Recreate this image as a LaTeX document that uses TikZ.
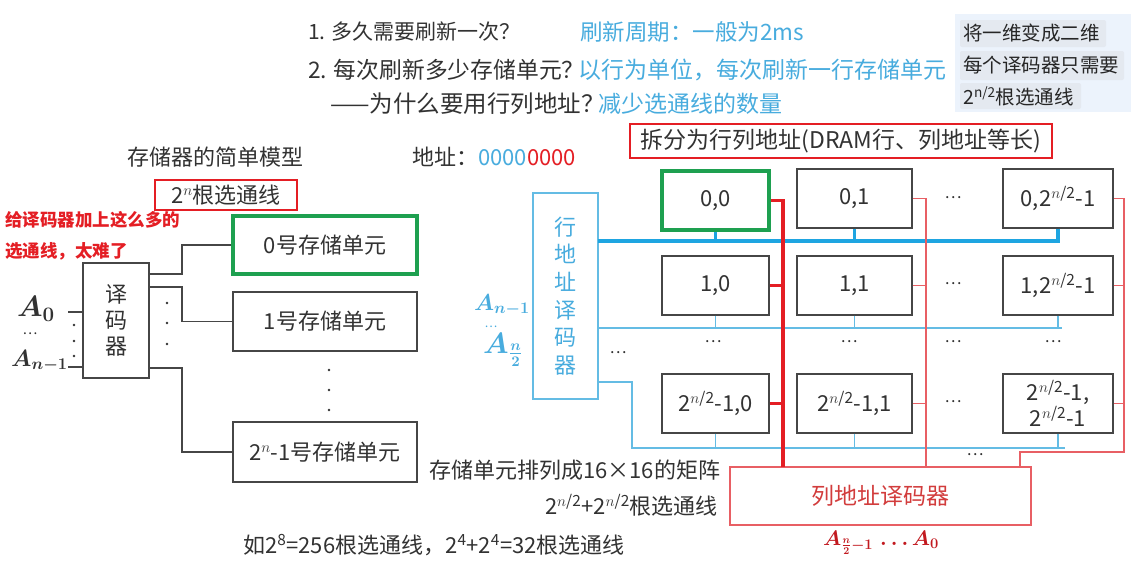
\RequirePackage{fix-cm}
\documentclass[tikz,border=0pt]{standalone}
\usepackage{amsmath,bm,graphicx}
\usepackage{fontspec}
\setmainfont{Noto Sans CJK SC}
\usetikzlibrary{calc}
\definecolor{txt}{RGB}{50,50,50}
\definecolor{lblue}{RGB}{72,172,222}
\definecolor{lineblue}{RGB}{30,165,225}
\definecolor{thinblue}{RGB}{100,188,228}
\definecolor{mred}{RGB}{228,30,36}
\definecolor{pred}{RGB}{232,95,100}
\definecolor{dred}{RGB}{210,60,60}
\definecolor{mgreen}{RGB}{30,160,80}
\definecolor{boxc}{RGB}{70,70,70}
\definecolor{panelbg}{RGB}{236,243,252}
\definecolor{hlbg}{RGB}{228,233,240}
\newcommand{\hsup}{2\textsuperscript{$n$/2}}
\begin{document}
\begin{tikzpicture}[x=1pt,y=-1pt,
  base/.style={inner sep=0pt, text=txt, font=\fontsize{22}{26}\selectfont},
  qtxt/.style={base, font=\fontsize{21}{25}\selectfont},
  bluetxt/.style={base, text=lblue, font=\fontsize{23}{27}\selectfont},
  paneltxt/.style={base, text=black!85, font=\fontsize{19.5}{23}\selectfont},
  annot/.style={base, text=mred, font=\fontsize{17.5}{21}\selectfont\bfseries},
  membox/.style={draw=boxc, line width=1.2pt, inner sep=0pt, text=txt,
    font=\fontsize{22}{26}\selectfont, minimum width=184, align=center},
  memcell/.style={draw=boxc, line width=1.2pt, inner sep=0pt, text=txt,
    font=\fontsize{22}{26}\selectfont, align=center},
  greenbox/.style={draw=mgreen, line width=3.5pt},
  wire/.style={draw=boxc, line width=1.1pt},
  bluethick/.style={draw=lineblue, line width=3.5pt},
  bluethin/.style={draw=thinblue, line width=1.3pt},
  redthick/.style={draw=mred, line width=3.5pt},
  redthin/.style={draw=pred, line width=1.3pt},
  dotsn/.style={base, font=\fontsize{16}{18}\selectfont},
  mathlbl/.style={base, font=\fontsize{21}{25}\selectfont},
  vdot/.style={fill=txt, circle, inner sep=0pt, minimum size=2.6pt}
]
\useasboundingbox (0,0) rectangle (1131,566);
\fill[white] (0,0) rectangle (1131,566);

% ---------- top questions ----------
\node[qtxt, anchor=west] (q1) at (308,32) {1. 多久需要刷新一次？};
\node[bluetxt, font=\fontsize{22.5}{27}\selectfont, anchor=west] (a1) at (580,32) {刷新周期：一般为2ms};
\node[qtxt, font=\fontsize{22.8}{27}\selectfont, anchor=west] (q2) at (308,70) {2. 每次刷新多少存储单元？};
\node[bluetxt, anchor=west] (a2) at (578,70) {以行为单位，每次刷新一行存储单元};
\node[qtxt, font=\fontsize{23.5}{27}\selectfont, anchor=west] (q3) at (330,104) {——为什么要用行列地址？};
\node[bluetxt, anchor=west] (a3) at (598,104) {减少选通线的数量};

% ---------- top-right panel ----------
\fill[panelbg] (955,14) rectangle (1131,112);
\fill[hlbg, rounded corners=2pt] (960,20) rectangle (1106,47);
\fill[hlbg, rounded corners=2pt] (960,51) rectangle (1124,80);
\fill[hlbg, rounded corners=2pt] (960,83) rectangle (1081,109);
\node[paneltxt, anchor=west] (p1) at (963,33) {将一维变成二维};
\node[paneltxt, anchor=west] (p2) at (963,65) {每个译码器只需要};
\node[paneltxt, anchor=west] (p3) at (963,96) {2\textsuperscript{n/2}根选通线};

% ---------- left simple model ----------
\node[base] (title) at (215,157) {存储器的简单模型};
\node[base, draw=mred, line width=2pt, minimum width=142, minimum height=30] (lines) at (226,195) {2\textsuperscript{$n$}根选通线};
\node[annot, anchor=west] (an1) at (5,220) {给译码器加上这么多的};
\node[annot, anchor=west] (an2) at (5,251) {选通线，太难了};

\node[memcell, minimum width=66, minimum height=115, font=\fontsize{22}{26}\selectfont] (dec) at (116,320.5) {译\\码\\器};

\node[mathlbl] (A0) at (36,309) {\scalebox{1.4}{$\bm{A_0}$}};
\node[base, font=\fontsize{14}{16}\selectfont] (Adots) at (30,334) {…};
\node[mathlbl, anchor=east] (An1) at (68,361) {\scalebox{1.12}{$\bm{A_{n-1}}$}};
\coordinate (ia0) at (68,312);
\coordinate (ia1) at (68,367);
\draw[wire] (ia0) -- (ia0 -| dec.west);
\draw[wire] (ia1) -- (ia1 -| dec.west);
\node[vdot] at (74,325) {};
\node[vdot] at (74,341) {};
\node[vdot] at (74,356) {};

\node[membox, greenbox, minimum height=58] (m0) at (325,245) {0号存储单元};
\node[membox, minimum height=59] (m1) at (325,321.5) {1号存储单元};
\node[membox, minimum height=60] (m2) at (325,452) {2\textsuperscript{$n$}-1号存储单元};

\coordinate (d0) at (149,274);
\coordinate (d1) at (149,287);
\coordinate (d2) at (149,368);
\draw[wire] (d0) -- ++(33,0) |- (m0.west);
\draw[wire] (d1) -- ++(33,0) |- (m1.west);
\draw[wire] (d2) -- ++(33,0) |- (m2.west);
\node[vdot] at (167,303) {};
\node[vdot] at (167,323) {};
\node[vdot] at (167,344) {};
\node[vdot] at (329,370) {};
\node[vdot] at (329,390) {};
\node[vdot] at (329,410) {};

% ---------- address ----------
\node[base, anchor=west] (addr) at (412,157) {地址：\textcolor{lblue}{0000}\textcolor{mred}{0000}};
\node[base, draw=mred, line width=2pt, minimum width=422, minimum height=34, font=\fontsize{23}{27}\selectfont] (split) at (841,141) {拆分为行列地址(DRAM行、列地址等长)};

% ---------- row decoder ----------
\node[draw=thinblue, line width=1.5pt, inner sep=0pt, minimum width=65, minimum height=206,
  text=lblue, align=center, font=\fontsize{22}{27.6}\selectfont] (rowdec) at (565.5,296) {行\\地\\址\\译\\码\\器};
\node[mathlbl, text=lblue, anchor=east] (Rn1) at (530,305) {\scalebox{1.1}{$\bm{A_{n-1}}$}};
\node[base, text=lblue, font=\fontsize{12}{14}\selectfont] (Rdots) at (491,327) {…};
\node[mathlbl, text=lblue, anchor=west] (Rn2) at (483,350) {\scalebox{1.4}{$\bm{A_{\frac{n}{2}}}$}};
\node[dotsn, text=txt] (rdd) at (618,353) {…};

% ---------- matrix cells ----------
\node[memcell, greenbox, minimum width=107, minimum height=59] (c00) at (715.5,200.5) {0,0};
\node[memcell, minimum width=115, minimum height=59] (c01) at (854.5,198.5) {0,1};
\node[memcell, minimum width=110, minimum height=59] (c0L) at (1058,198.5) {0,{\hsup}-1};
\node[memcell, minimum width=107, minimum height=59] (c10) at (715.5,285.5) {1,0};
\node[memcell, minimum width=115, minimum height=59] (c11) at (854.5,285.5) {1,1};
\node[memcell, minimum width=110, minimum height=59] (c1L) at (1058,285.5) {1,{\hsup}-1};
\node[memcell, minimum width=107, minimum height=59] (cL0) at (715.5,403.5) {{\hsup}-1,0};
\node[memcell, minimum width=115, minimum height=59] (cL1) at (854.5,403.5) {{\hsup}-1,1};
\node[memcell, minimum width=110, minimum height=59] (cLL) at (1058,403.5) {{\hsup}-1,\\{\hsup}-1};

\node[dotsn] at (953,198) {…};
\node[dotsn] at (953,284) {…};
\node[dotsn] at (953,402) {…};
\node[dotsn] at (713,342) {…};
\node[dotsn] at (849,342) {…};
\node[dotsn] at (953,342) {…};
\node[dotsn] at (1053,342) {…};
\node[dotsn] at (975,455) {…};

% ---------- column decoder ----------
\node[draw=pred, line width=1.5pt, inner sep=0pt, minimum width=301, minimum height=58,
  text=dred, font=\fontsize{23}{27}\selectfont] (coldec) at (880.5,496) {列地址译码器};
\node[mathlbl, text=mred!85!black] (colin) at (881,543) {$\bm{A_{\frac{n}{2}-1}\,\ldots A_0}$};

% ---------- blue row lines ----------
\coordinate (r0a) at (598,241);
\coordinate (r0b) at (1060,241);
\coordinate (r1a) at (598,328);
\coordinate (r1b) at (1062,328);
\coordinate (rLa) at (598,382);
\coordinate (rLb) at (1065,448);
\draw[bluethick] (r0a) -- (r0b);
\draw[bluethick] (c00.south) -- (c00.south |- r0a);
\draw[bluethick] (c01.south) -- (c01.south |- r0a);
\draw[bluethick] (c0L.south) -- (c0L.south |- r0a);
\draw[bluethin] (r1a) -- (r1b);
\draw[bluethin] (c10.south) -- (c10.south |- r1a);
\draw[bluethin] (c11.south) -- (c11.south |- r1a);
\draw[bluethin] (c1L.south) -- (c1L.south |- r1a);
\draw[bluethin] (rLa) -- ++(34,0) |- (rLb);
\draw[bluethin] (cL0.south) -- (cL0.south |- rLb);
\draw[bluethin] (cL1.south) -- (cL1.south |- rLb);
\draw[bluethin] (cLL.south) -- (cLL.south |- rLb);

% ---------- red column lines ----------
\coordinate (k0) at (783,467);
\coordinate (k1) at (926,467);
\coordinate (kL) at (1124,452);
\coordinate (kL2) at (1020,467);
\draw[redthick] (c00.east) -| (k0);
\draw[redthick] (c10.east) -- (c10.east -| k0);
\draw[redthick] (cL0.east) -- (cL0.east -| k0);
\draw[redthin] (c01.east) -| (k1);
\draw[redthin] (c11.east) -- (c11.east -| k1);
\draw[redthin] (cL1.east) -- (cL1.east -| k1);
\draw[redthin] (c0L.east) -| (kL) -| (kL2);
\draw[redthin] (c1L.east) -- (c1L.east -| kL);
\draw[redthin] (cLL.east) -- (cLL.east -| kL);

% ---------- bottom texts ----------
\node[base, anchor=west] (b1) at (429,470) {存储单元排列成16×16的矩阵};
\node[base, anchor=east] (b2) at (718,505) {{\hsup}+{\hsup}根选通线};
\node[base, anchor=west] (b3) at (243,545) {如2\textsuperscript{8}=256根选通线，2\textsuperscript{4}+2\textsuperscript{4}=32根选通线};
\end{tikzpicture}
\end{document}
